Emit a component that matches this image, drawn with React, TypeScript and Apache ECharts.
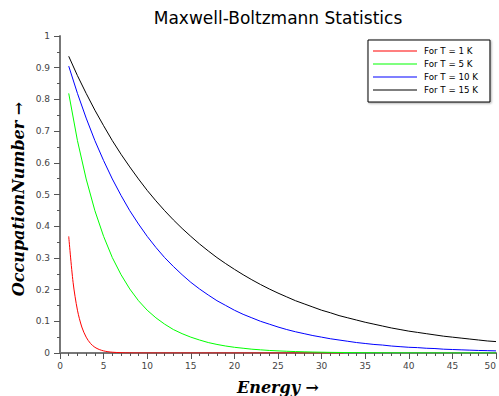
import React, { useEffect, useRef } from "react";
import * as echarts from "echarts";

const title = "Maxwell-Boltzmann Statistics";
const xName = "Energy \u2192";
const yName = "OccupationNumber \u2192";
const seriesNames = ["For T = 1 K", "For T = 5 K", "For T = 10 K", "For T = 15 K"];
const seriesColors = ["#ff0000", "#00ff00", "#0000ff", "#000000"];

// Energy samples for T = 1 K (finer near the start)
const energyT1 = [1, 1.5, 2, 2.5, 3, 3.5, 4, 4.5, 5, 5.5, 6, 7, 8, 10, 15, 20, 25, 30, 32.5];
const occT1 = [0.368, 0.223, 0.135, 0.082, 0.05, 0.03, 0.018, 0.011, 0.0067, 0.004, 0.0025, 0.0009, 0.0003, 0.00005, 0, 0, 0, 0, 0];

// Energy samples for the other temperatures
const energy = [
  1, 2, 3, 4, 5, 6, 7, 8, 9, 10, 11, 12, 13, 14, 15, 16, 17, 18, 19, 20, 21, 22, 23, 24, 25,
  26, 27, 28, 29, 30, 31, 32, 33, 34, 35, 36, 37, 38, 39, 40, 41, 42, 43, 44, 45, 46, 47, 48, 49, 50,
];
const occT5 = [
  0.819, 0.67, 0.549, 0.449, 0.368, 0.301, 0.247, 0.202, 0.165, 0.135, 0.111, 0.091, 0.074, 0.061, 0.05,
  0.041, 0.033, 0.027, 0.022, 0.018, 0.015, 0.012, 0.01, 0.008, 0.0067, 0.0055, 0.0045, 0.0037, 0.003, 0.0025,
  0.002, 0.0017, 0.0014, 0.0011, 0.0009, 0.0007, 0.0006, 0.0005, 0.0004, 0.0003, 0.0003, 0.0002, 0.0002,
  0.0002, 0.0001, 0.0001, 0.0001, 0.0001, 0.0001, 0.00005,
];
const occT10 = [
  0.905, 0.819, 0.741, 0.67, 0.607, 0.549, 0.497, 0.449, 0.407, 0.368, 0.333, 0.301, 0.273, 0.247, 0.223,
  0.202, 0.183, 0.165, 0.15, 0.135, 0.122, 0.111, 0.1, 0.091, 0.082, 0.074, 0.067, 0.061, 0.055, 0.05,
  0.045, 0.041, 0.037, 0.033, 0.03, 0.027, 0.025, 0.022, 0.02, 0.018, 0.017, 0.015, 0.014, 0.012, 0.011,
  0.01, 0.009, 0.008, 0.0074, 0.0067,
];
const occT15 = [
  0.936, 0.875, 0.819, 0.766, 0.717, 0.67, 0.627, 0.587, 0.549, 0.513, 0.48, 0.449, 0.42, 0.393, 0.368,
  0.344, 0.322, 0.301, 0.282, 0.264, 0.247, 0.231, 0.216, 0.202, 0.189, 0.177, 0.165, 0.155, 0.145, 0.135,
  0.127, 0.118, 0.111, 0.104, 0.097, 0.091, 0.085, 0.079, 0.074, 0.069, 0.065, 0.061, 0.057, 0.053, 0.05,
  0.047, 0.044, 0.041, 0.038, 0.036,
];

const zip = (xs: number[], ys: number[]) => xs.map((x, i) => [x, ys[i]]);

export default function App() {
  const ref = useRef<HTMLDivElement>(null);
  useEffect(() => {
    if (!ref.current) return;
    const chart = echarts.init(ref.current, undefined, { renderer: "svg" });
    const seriesData = [zip(energyT1, occT1), zip(energy, occT5), zip(energy, occT10), zip(energy, occT15)];
    const axisLine = { show: true, lineStyle: { color: "#777", width: 2 } };
    const axisTick = { show: true, inside: false, length: 6, lineStyle: { color: "#555", width: 1 } };
    const minorTick = { show: true, length: 3, lineStyle: { color: "#555", width: 1 } };
    const axisLabel = { color: "#444", fontSize: 9, fontFamily: "DejaVu Sans" };
    const nameStyle = { fontFamily: "DejaVu Serif", fontStyle: "italic", fontWeight: "bold", fontSize: 16, color: "#000" };
    chart.setOption({
      animation: false,
      backgroundColor: "#ffffff",
      graphic: [
        {
          type: "text",
          x: 278,
          y: 18,
          style: {
            text: title,
            fontFamily: "DejaVu Sans",
            fontSize: 17,
            fill: "#000",
            textAlign: "center",
            textVerticalAlign: "middle",
          },
        },
        {
          type: "text",
          x: 18,
          y: 199,
          rotation: Math.PI / 2,
          style: {
            text: yName,
            fontFamily: "DejaVu Serif",
            fontStyle: "italic",
            fontWeight: "bold",
            fontSize: 16,
            fill: "#000",
            textAlign: "center",
            textVerticalAlign: "middle",
          },
        },
      ],
      legend: {
        orient: "vertical",
        left: 368,
        top: 40,
        icon: "rect",
        itemWidth: 44,
        itemHeight: 1,
        itemGap: 3,
        backgroundColor: "#fff",
        borderColor: "#000",
        borderWidth: 1,
        padding: [6, 12, 7, 5],
        shadowColor: "rgba(0,0,0,0.35)",
        shadowBlur: 2,
        shadowOffsetX: 1,
        shadowOffsetY: 1,
        textStyle: { fontFamily: "DejaVu Sans", fontSize: 8.7, lineHeight: 10, color: "#000", padding: [0, 0, 0, 2] },
        data: seriesNames,
      },
      grid: { left: 60, right: 3, top: 36, bottom: 43, containLabel: false, outerBoundsMode: "none" },
      xAxis: {
        type: "value",
        min: 0,
        max: 50,
        interval: 5,
        minorTick: { ...minorTick, splitNumber: 5 },
        axisLine,
        axisTick,
        splitLine: { show: false },
        axisLabel: { ...axisLabel, margin: 8, alignMaxLabel: "right" },
        name: xName,
        nameLocation: "middle",
        nameGap: 26,
        nameTextStyle: nameStyle,
      },
      yAxis: {
        type: "value",
        min: 0,
        max: 1,
        interval: 0.1,
        minorTick: { ...minorTick, splitNumber: 2 },
        axisLine,
        axisTick,
        splitLine: { show: false },
        axisLabel: { ...axisLabel, margin: 10 },
      },
      series: seriesNames.map((name, i) => ({
        name,
        type: "line",
        data: seriesData[i],
        smooth: i === 0 ? 0.3 : false,
        showSymbol: false,
        symbol: "none",
        color: seriesColors[i],
        lineStyle: { color: seriesColors[i], width: 1 },
      })),
    });
    return () => chart.dispose();
  }, []);
  return <div ref={ref} style={{ width: 499, height: 396, position: "absolute", left: 0, top: 0 }} />;
}
